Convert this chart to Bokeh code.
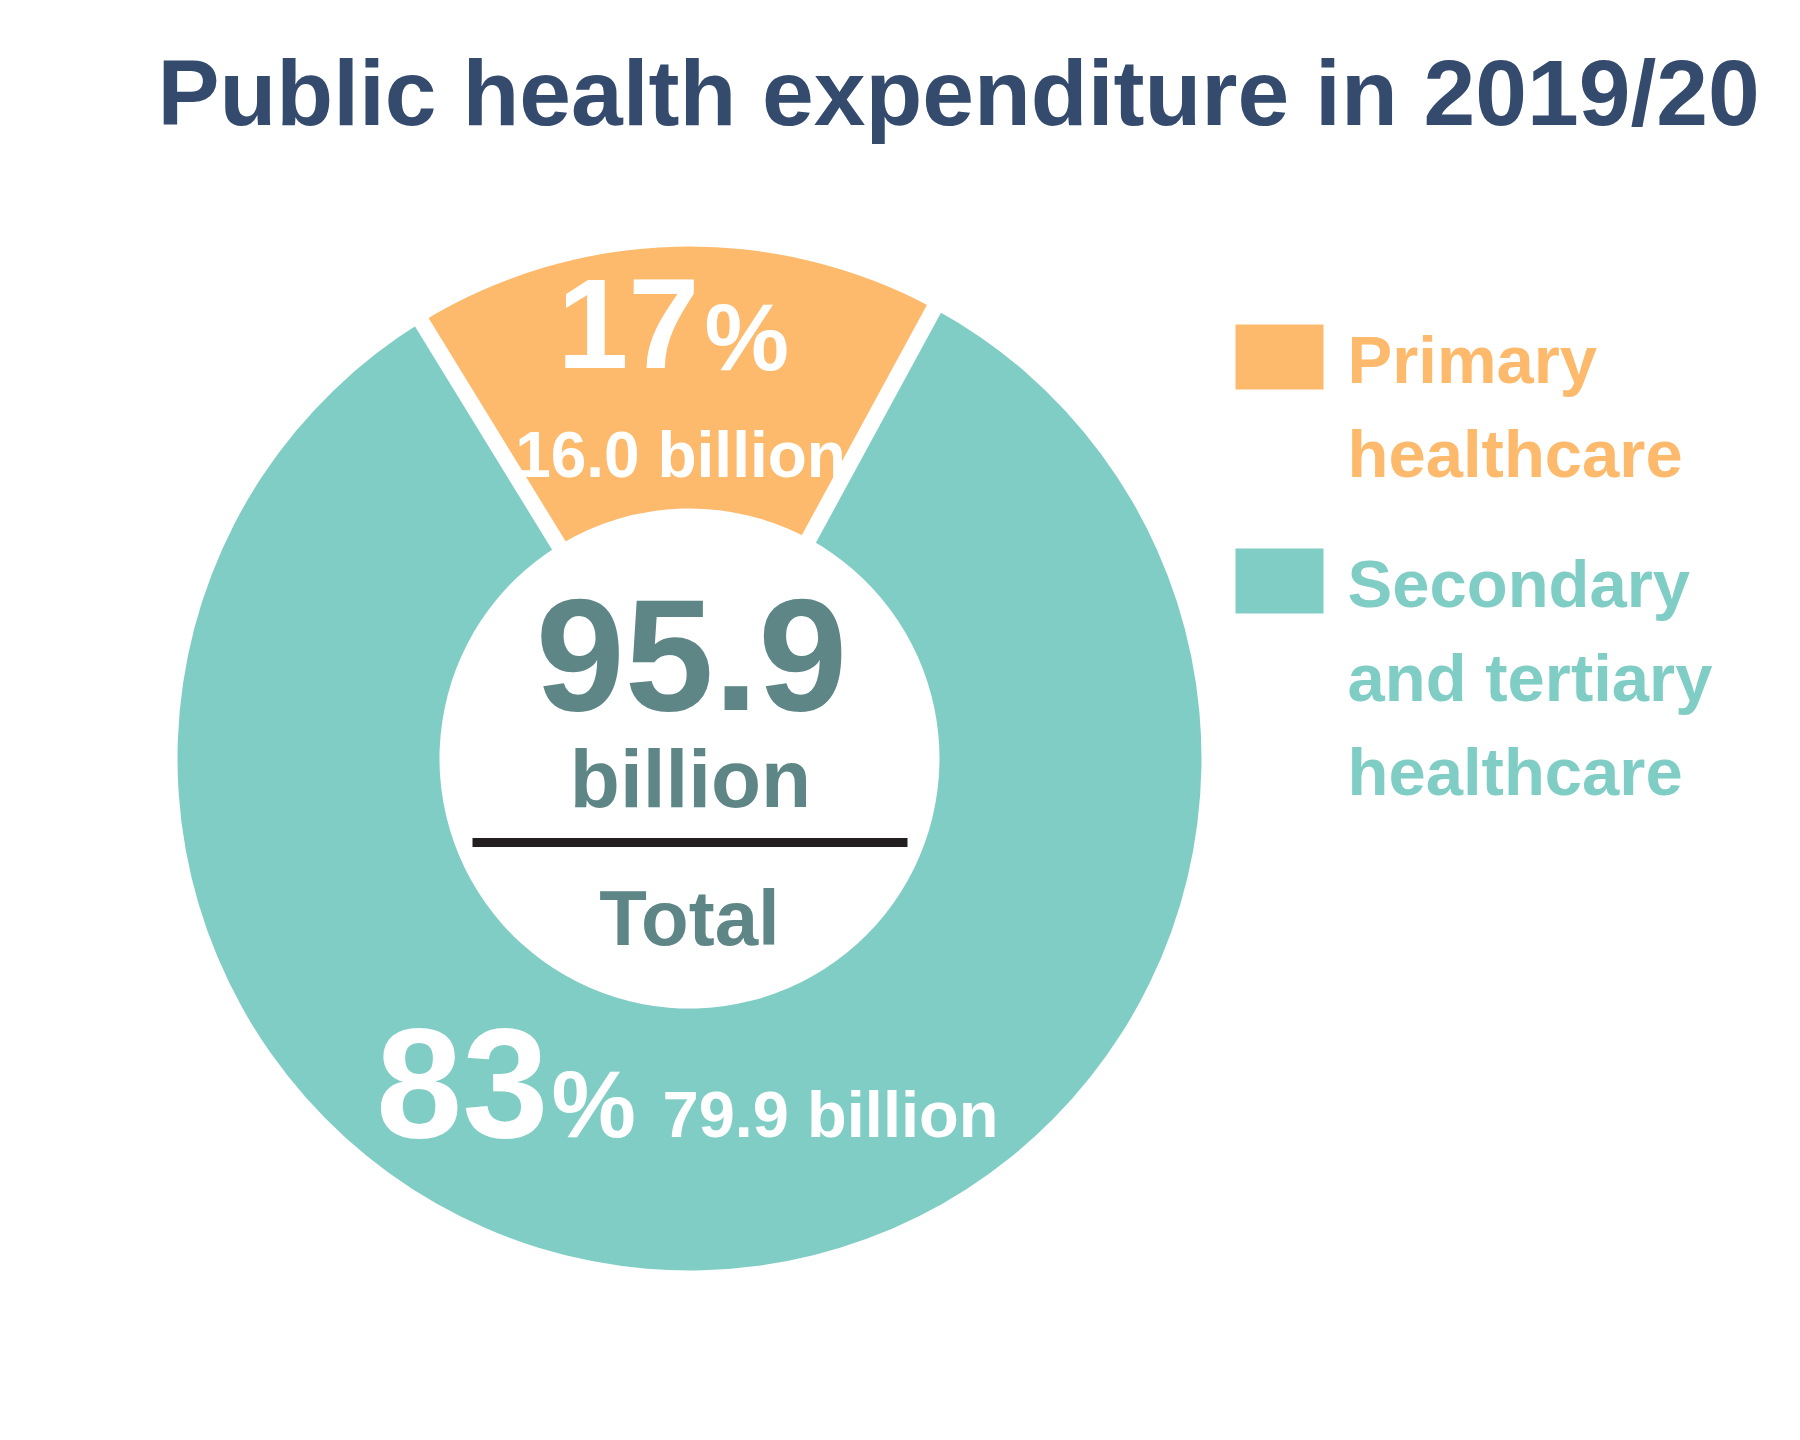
import math
from bokeh.plotting import figure
from bokeh.models import Range1d
from bokeh.core.properties import value
from bokeh.embed import file_html
from bokeh.resources import INLINE

# ---------------- data ----------------
categories = ["Primary healthcare", "Secondary and tertiary healthcare"]
values = [16.0, 79.9]
total_value = 95.9
legend_lines = [["Primary", "healthcare"], ["Secondary", "and tertiary", "healthcare"]]
colors = ["#FDBA6C", "#80CDC6"]
title_text = "Public health expenditure in 2019/20"
total_unit = "billion"
total_label = "Total"

# ---------------- layout helpers ----------------
W, H = 1784, 1424
def Y(y_ref):
    return 1440 - y_ref

K = 0.34  # baseline correction factor
def TB(y_ref, fs):
    return Y(y_ref - K * fs)

FONT = value("Liberation Sans")
TITLE_COLOR = "#344B6E"
CENTER_COLOR = "#5F8686"

p = figure(width=W, height=H, output_backend="svg", toolbar_location=None,
           x_range=Range1d(0, W), y_range=Range1d(1440 - H, 1440),
           min_border=0, background_fill_color="white", border_fill_color="white")
p.axis.visible = False
p.grid.visible = False
p.outline_line_color = None

def txt(x, y_ref, s, fs, color, align="left"):
    p.text(x=[x], y=[TB(y_ref, fs)], text=[s], text_font=FONT, text_font_style="bold",
           text_font_size=f"{fs}px", text_color=color, text_align=align,
           text_baseline="alphabetic")

# ---------------- donut ----------------
cx, cy = 689, Y(758)
r_in, r_out = 250, 512
shares = [v / total_value for v in values]
center_deg = 91.5
start0 = math.radians(center_deg) - shares[0] * math.pi
angles = [start0]
for s in shares:
    angles.append(angles[-1] + s * 2 * math.pi)

p.annular_wedge(x=[cx] * len(values), y=[cy] * len(values),
                inner_radius=r_in, outer_radius=r_out,
                start_angle=angles[:-1], end_angle=angles[1:],
                fill_color=colors, line_color=None)

# white separators
bounds = angles[:-1]
x0 = [cx + (r_in - 10) * math.cos(a) for a in bounds]
y0 = [cy + (r_in - 10) * math.sin(a) for a in bounds]
x1 = [cx + (r_out + 10) * math.cos(a) for a in bounds]
y1 = [cy + (r_out + 10) * math.sin(a) for a in bounds]
p.segment(x0=x0, y0=y0, x1=x1, y1=y1, line_color="white", line_width=16)

# ---------------- title ----------------
txt(157, 124, title_text, 93, TITLE_COLOR)

# ---------------- center ----------------
txt(691, 709, f"{total_value:.1f}", 160, CENTER_COLOR, "center")
txt(690, 806, total_unit, 82, CENTER_COLOR, "center")
p.segment(x0=[472], y0=[Y(842)], x1=[907], y1=[Y(842)], line_color="#231F20", line_width=9)
txt(689, 944, total_label, 78, CENTER_COLOR, "center")

# ---------------- slice labels ----------------
pcts = [str(round(s * 100)) for s in shares]
amounts = [f"{v:.1f} billion" for v in values]

# primary (top)
txt(699, 367, pcts[0], 128, "white", "right")
txt(704, 369, "%", 95, "white")
txt(680, 476, amounts[0], 64, "white", "center")

# secondary (bottom)
txt(548, 1135, pcts[1], 155, "white", "right")
txt(551, 1136, "%", 95, "white")
txt(662, 1136, amounts[1], 65, "white")

# ---------------- legend ----------------
sw_left, sw_w, sw_h = 1235, 88, 65
block_tops = [324, 548]
for i, lines in enumerate(legend_lines):
    top = block_tops[i]
    p.quad(left=[sw_left], right=[sw_left + sw_w], top=[Y(top)], bottom=[Y(top + sw_h)],
           fill_color=colors[i], line_color=None)
    fs = 67
    p.text(x=[1347] * len(lines), y=[TB(top + 58 + 94 * k, fs) for k in range(len(lines))],
           text=lines, text_font=FONT, text_font_style="bold", text_font_size=f"{fs}px",
           text_color=colors[i], text_align="left", text_baseline="alphabetic")

open("out.html", "w").write(file_html(p, INLINE))
